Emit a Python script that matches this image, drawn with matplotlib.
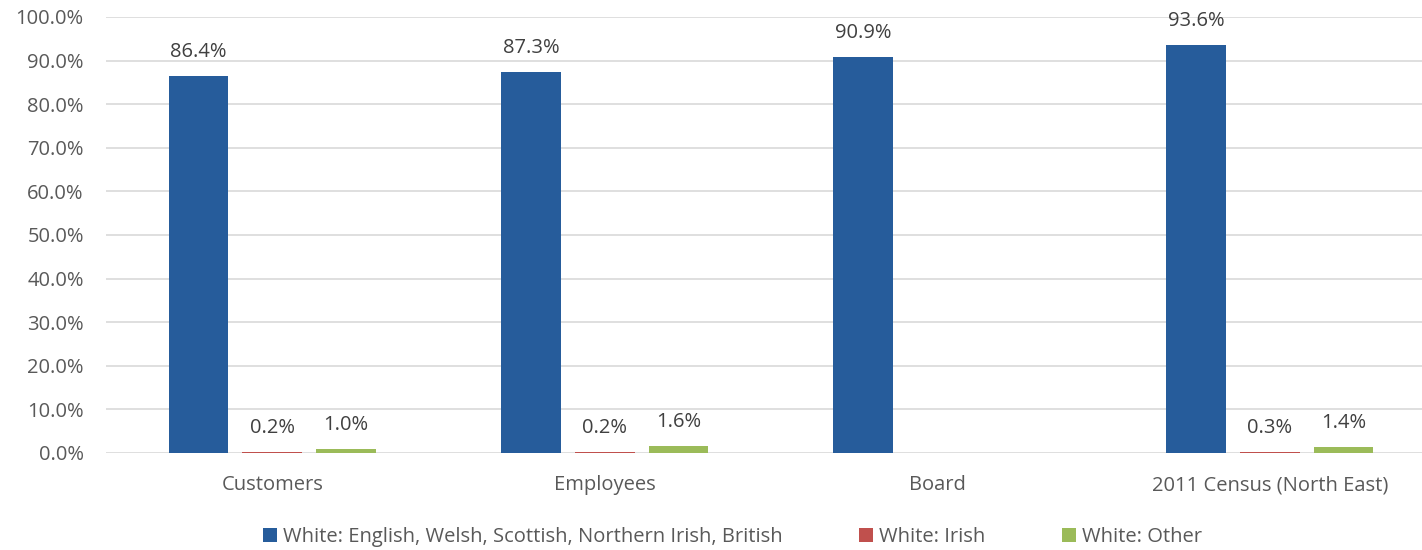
import matplotlib
matplotlib.use("Agg")
import matplotlib.pyplot as plt
import numpy as np

categories = ["Customers", "Employees", "Board", "2011 Census (North East)"]
series_names = ["White: English, Welsh, Scottish, Northern Irish, British",
                "White: Irish", "White: Other"]
white_british = [86.4, 87.3, 90.9, 93.6]
white_irish = [0.2, 0.2, np.nan, 0.3]
white_other = [1.0, 1.6, np.nan, 1.4]
colors = ["#265C9B", "#C0504D", "#9BBB59"]

plt.rcParams['font.family'] = ['Open Sans', 'DejaVu Sans']

fig = plt.figure(figsize=(14.22, 5.5), dpi=100)
ax = fig.add_axes([106/1422, 1-453/550, 1-106/1422, (453-17)/550])

x = np.arange(len(categories))
width = 0.18
offset = 0.222
for i, (vals, name, c) in enumerate(zip([white_british, white_irish, white_other], series_names, colors)):
    pos = x + (i-1)*offset
    ax.bar(pos, vals, width, color=c, label=name, zorder=3)
    for p, v in zip(pos, vals):
        if not np.isnan(v):
            ax.annotate(f"{v:.1f}%", (p, v), xytext=(0, 10), textcoords="offset points",
                        ha="center", va="bottom", fontsize=14.5, color="#404040")

ax.set_ylim(0, 100)
ax.set_yticks(np.arange(0, 101, 10))
ax.set_yticklabels([f"{t:.1f}%" for t in np.arange(0, 101, 10)])
ax.set_xlim(-0.5, 3.5 - 14/333)
ax.set_xticks(x)
ax.set_xticklabels(categories)
ax.tick_params(axis='both', length=0, labelsize=14.5, colors="#595959")
ax.tick_params(axis='x', pad=16)
ax.tick_params(axis='y', pad=16)
ax.grid(axis='y', color="#D9D9D9", linewidth=1.2, zorder=0)
for s in ax.spines.values():
    s.set_visible(False)

fig.legend(loc="center", bbox_to_anchor=(0.515, 1-537/550), ncol=3, frameon=False,
           fontsize=14.5, handlelength=0.7, handleheight=0.7, handletextpad=0.3,
           columnspacing=3.8, labelcolor="#595959")

fig.savefig("out.png", dpi=100)
